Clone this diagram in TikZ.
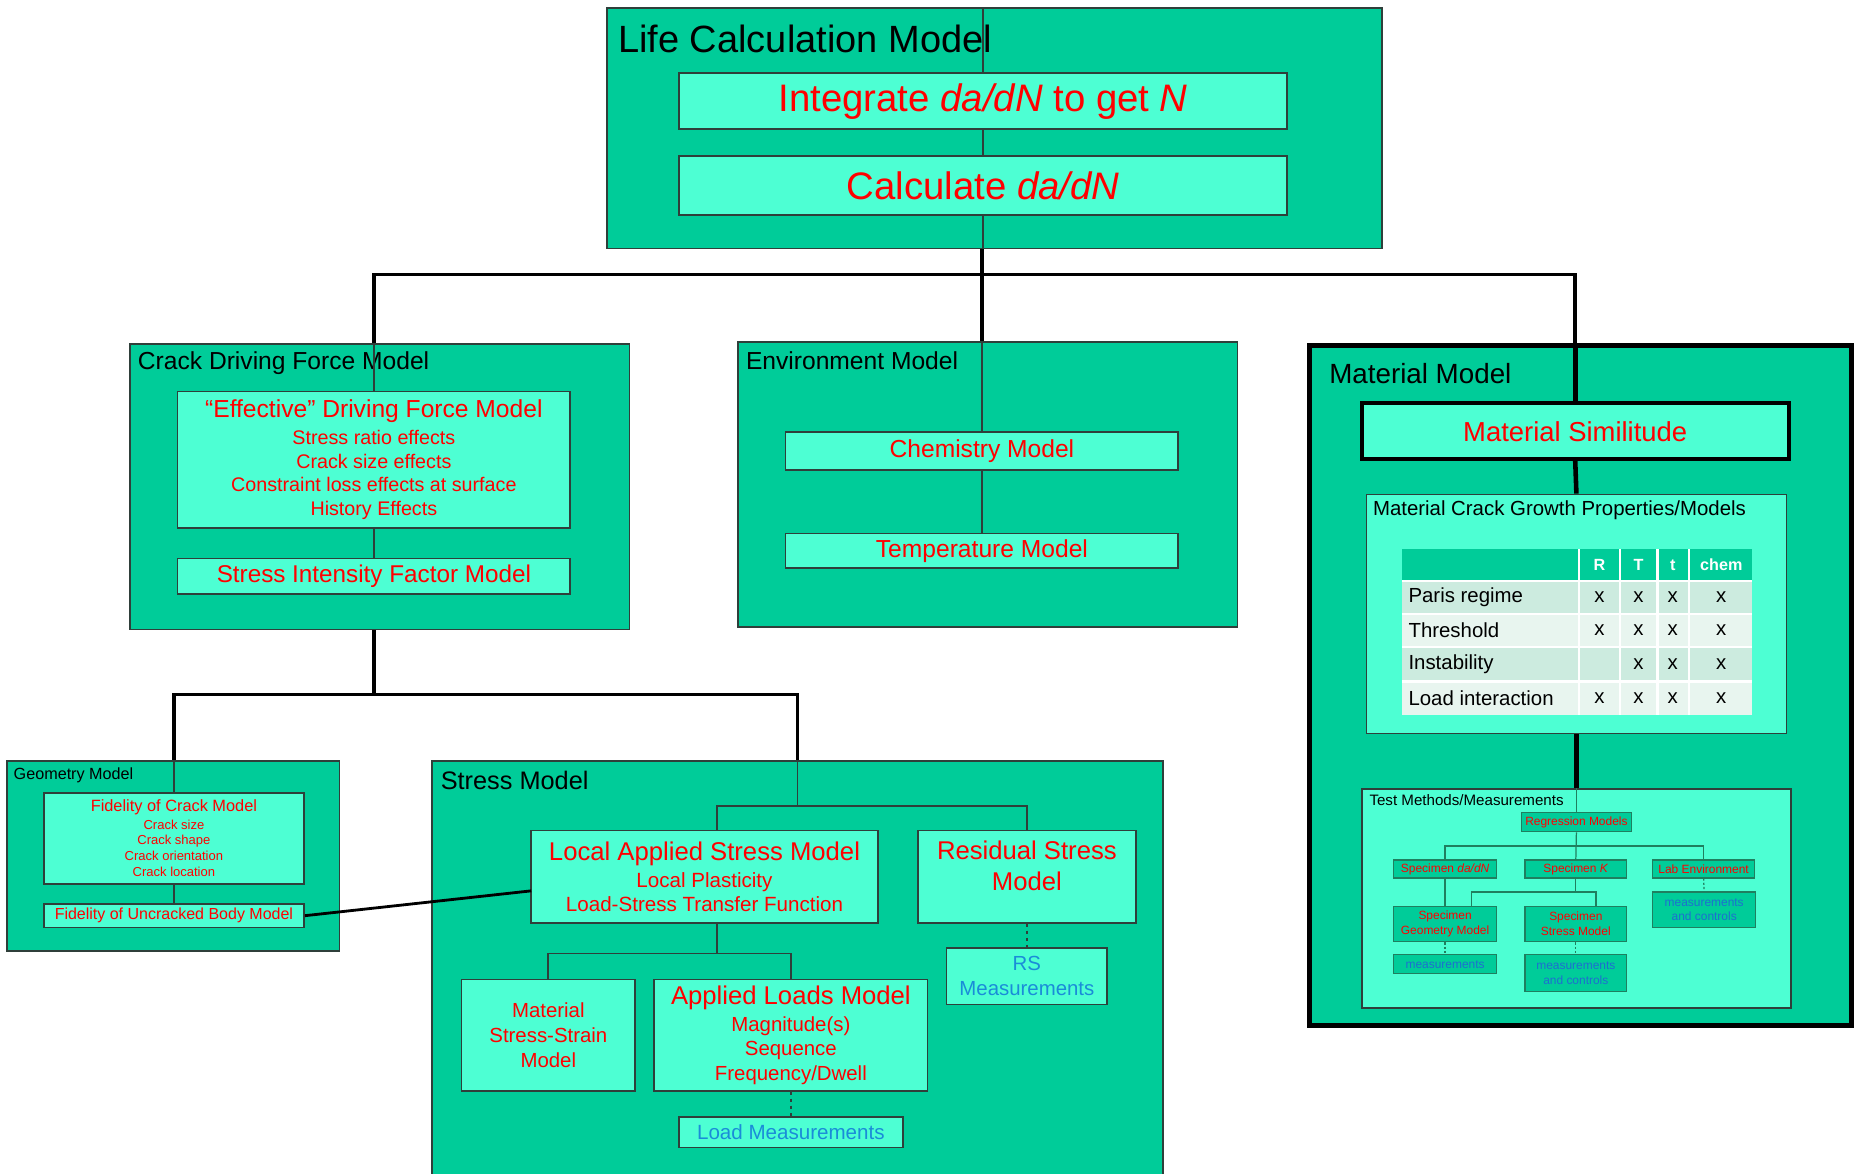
\documentclass[tikz,border=0pt]{standalone}
\usepackage{fontspec}
\setmainfont{Liberation Sans}
\definecolor{modelgreen}{HTML}{00CC99}
\definecolor{innergreen}{HTML}{4DFFD3}
\definecolor{labelred}{HTML}{FF0000}
\definecolor{measblue}{HTML}{1A8CD8}
\definecolor{testblue}{HTML}{1E6ED0}
\definecolor{rowdark}{HTML}{CCEBDF}
\definecolor{rowlight}{HTML}{E8F5EF}
\definecolor{edgegray}{HTML}{2F3F3A}
\definecolor{testedge}{HTML}{1F7F5F}
\newcommand{\fsz}[2]{\fontsize{#1}{#2}\selectfont}

\begin{document}
\begin{tikzpicture}[x=0.01183cm, y=-0.01183cm,
    boxsize/.style 2 args={minimum width={#1*0.01183cm}, minimum height={#2*0.01183cm}},
    outerbox/.style={draw=edgegray, line width=0.5pt, fill=modelgreen, inner sep=0pt},
    innerbox/.style={draw=edgegray, line width=0.5pt, fill=innergreen, inner sep=0pt, align=center, text=labelred},
    testbox/.style={draw=testedge, line width=0.4pt, fill=modelgreen, inner sep=0pt, align=center, text=labelred, font=\fsz{3.4}{4.2}},
    titletext/.style={inner sep=0pt, anchor=west, text=black},
    tablecell/.style={inner sep=0pt, text=black, font=\fsz{5.8}{7}},
    tablehead/.style={inner sep=0pt, text=white, font=\bfseries\fsz{4.6}{5.5}},
    thinline/.style={draw=edgegray, line width=0.5pt},
    busline/.style={draw=black, line width=1pt},
    testline/.style={draw=testedge, line width=0.35pt},
    measline/.style={draw=edgegray, line width=0.4pt, dash pattern=on 1pt off 1pt}]
\useasboundingbox[fill=white] (0,0) rectangle (1568,992);

\node[outerbox, boxsize={655}{203}] (lcm) at (840.5,108.5) {};
\node[outerbox, boxsize={422}{241}] (cdf) at (321,411.5) {};
\node[outerbox, boxsize={422}{241}] (env) at (835,409.5) {};
\node[outerbox, draw=black, line width=1.3pt, boxsize={458}{575}] (mat) at (1336,579.5) {};
\node[outerbox, boxsize={281}{161}] (geo) at (146.5,723.5) {};
\node[outerbox, boxsize={618}{357}] (stm) at (674,821.5) {};

\node[titletext, font=\fsz{10.8}{13}] (lcmtitle) at (522,33) {Life Calculation Model};
\node[titletext, font=\fsz{7}{8.4}] (cdftitle) at (116,307) {Crack Driving Force Model};
\node[titletext, font=\fsz{7}{8.4}] (envtitle) at (630,305) {Environment Model};
\node[titletext, font=\fsz{7.9}{9.5}] (mattitle) at (1123,316) {Material Model};
\node[titletext, font=\fsz{4.6}{5.5}] (geotitle) at (11,655) {Geometry Model};
\node[titletext, font=\fsz{7.2}{8.6}] (stmtitle) at (372,660) {Stress Model};

\node[innerbox, font=\fsz{10.9}{13}, boxsize={514}{47}] (integ) at (831,85.5) {Integrate \textit{da/dN} to get \textit{N}};
\node[innerbox, font=\fsz{10.9}{13}, boxsize={514}{50}] (calcrate) at (831,157) {Calculate \textit{da/dN}};

\node[innerbox, font=\fsz{5.6}{6.7}, boxsize={332}{115}] (eff) at (316,388.5) {{\fsz{7}{8}“Effective” Driving Force Model}\\[1pt] Stress ratio effects\\ Crack size effects\\ Constraint loss effects at surface\\ History Effects};
\node[innerbox, font=\fsz{6.9}{8}, boxsize={332}{30}] (sif) at (316,487) {Stress Intensity Factor Model};

\node[innerbox, font=\fsz{7}{8}, boxsize={332}{32}] (chem) at (830,381) {Chemistry Model};
\node[innerbox, font=\fsz{7}{8}, boxsize={332}{29}] (temp) at (830,465.5) {Temperature Model};

\node[innerbox, draw=black, line width=1.1pt, font=\fsz{7.8}{9}, boxsize={361}{47}] (simil) at (1331.5,364.5) {Material Similitude};
\node[innerbox, boxsize={355}{202}] (mcg) at (1332.5,519) {};
\node[innerbox, boxsize={363}{185}] (tmm) at (1332.5,759.5) {};
\node[titletext, font=\fsz{5.8}{7}] (mcgtitle) at (1160,431) {Material Crack Growth Properties/Models};
\node[titletext, font=\fsz{4.3}{5}] (tmmtitle) at (1157,676) {Test Methods/Measurements};

\fill[modelgreen] (1185,464) rectangle (1481,491);
\foreach \hx/\htxt in {1352/R, 1385/T, 1414/t, 1455/chem}
    \node[tablehead] at (\hx,477.5) {\htxt};
\foreach \rowname/\ya/\yb/\rowcol/\rmark in {Paris regime/491/519/rowdark/x, Threshold/519/547/rowlight/x, Instability/547/576/rowdark/{}, Load interaction/576/604/rowlight/x} {
    \fill[\rowcol] (1185,\ya) rectangle (1481,\yb);
    \node[tablecell, anchor=west] at (1190,{(\ya+\yb)/2}) {\rowname};
    \node[tablecell] at (1352,{(\ya+\yb)/2}) {\rmark};
    \foreach \cx in {1385,1414,1455}
        \node[tablecell] at (\cx,{(\ya+\yb)/2}) {x};
}
\foreach \sx in {1335,1369,1401,1428}
    \draw[white, line width=0.6pt] (\sx,464) -- (\sx,604);
\foreach \sy in {491,519,547,576}
    \draw[white, line width=0.6pt] (1185,\sy) -- (1481,\sy);

\node[testbox, boxsize={93}{16}] (reg) at (1332.5,695) {Regression Models};
\node[testbox, boxsize={87}{15}] (spda) at (1221.5,734.5) {Specimen \textit{da/dN}};
\node[testbox, boxsize={86}{15}] (spk) at (1332,734.5) {Specimen \textit{K}};
\node[testbox, boxsize={86}{15}] (labenv) at (1440,734.5) {Lab Environment};
\node[testbox, boxsize={87}{30}] (spgeo) at (1221.5,781) {Specimen\\Geometry Model};
\node[testbox, boxsize={86}{30}] (spst) at (1332,781) {Specimen\\Stress Model};
\node[testbox, text=testblue, boxsize={87}{16}] (measgeo) at (1221.5,815) {measurements};
\node[testbox, text=testblue, boxsize={86}{31}] (measst) at (1332,822.5) {measurements\\and controls};
\node[testbox, text=testblue, boxsize={87}{30}] (measlab) at (1440.5,769) {measurements\\and controls};

\node[innerbox, font=\fsz{3.7}{4.5}, boxsize={220}{77}] (fcm) at (147,708.5) {{\fsz{4.65}{5.5}Fidelity of Crack Model}\\[0.5pt] Crack size\\ Crack shape\\ Crack orientation\\ Crack location};
\node[innerbox, font=\fsz{4.55}{5.5}, boxsize={220}{20}] (fub) at (147,774) {Fidelity of Uncracked Body Model};

\node[innerbox, font=\fsz{5.85}{7}, boxsize={293}{78}] (las) at (595.5,741) {{\fsz{7.3}{8.5}Local Applied Stress Model}\\[0.7pt] Local Plasticity\\ Load-Stress Transfer Function};
\node[innerbox, boxsize={184}{78}] (rsm) at (868,741) {};
\node[inner sep=0pt, align=center, text=labelred, font=\fsz{7.3}{8.7}] (rsmtext) at (868,732) {Residual Stress\\Model};
\node[innerbox, text=measblue, font=\fsz{5.8}{7}, boxsize={136}{48}] (rsmeas) at (868,825) {RS\\Measurements};
\node[innerbox, font=\fsz{5.8}{7}, boxsize={147}{94}] (mss) at (463.5,875) {Material\\Stress-Strain\\Model};
\node[innerbox, font=\fsz{5.8}{7}, boxsize={231}{94}] (alm) at (668.5,875) {{\fsz{7.3}{8.5}Applied Loads Model}\\[0.7pt] Magnitude(s)\\ Sequence\\ Frequency/Dwell};
\node[innerbox, text=measblue, font=\fsz{5.85}{7}, boxsize={189}{26}] (ldmeas) at (668.5,957) {Load Measurements};

\coordinate (topbus) at (830,232);
\coordinate (lowbus) at (316,587);
\coordinate (stbus) at (674,681);
\coordinate (lastop) at (606,702);
\coordinate (lasbot) at (606,780);
\coordinate (loadbus) at (606,806);
\coordinate (laslink) at (449,753);
\coordinate (regbus) at (1332,715);
\coordinate (kbus) at (1332,754);
\coordinate (geotop) at (1244,766);
\coordinate (sttop) at (1349,766);

\draw[thinline] (integ.north) -- (integ.north |- lcm.north);
\draw[thinline] (integ.south) -- (calcrate.north);
\draw[thinline] (calcrate.south) -- (calcrate.south |- lcm.south);
\draw[busline] (lcm.south -| chem.north) -- (env.north -| chem.north);
\draw[busline] (cdf.north -| eff.north) |- (topbus) -| (mat.north -| simil.north);
\draw[busline, line width=1.3pt] (mat.north -| simil.north) -- (simil.north);
\draw[thinline] (eff.north) -- (eff.north |- cdf.north);
\draw[thinline] (eff.south) -- (sif.north);
\draw[thinline] (chem.north) -- (chem.north |- env.north);
\draw[thinline] (chem.south) -- (temp.north);

\draw[busline] (sif.south |- cdf.south) -- (lowbus);
\draw[busline] (fcm.north |- geo.north) |- (lowbus) -| (stm.north);
\draw[thinline] (fcm.north) -- (fcm.north |- geo.north);
\draw[thinline] (fcm.south) -- (fub.north);
\draw[busline, line width=0.8pt] (fub.east) -- (laslink);
\draw[thinline] (stm.north) -- (stbus);
\draw[thinline] (lastop) |- (stbus) -| (rsm.north);
\draw[thinline] (lasbot) -- (loadbus);
\draw[thinline] (mss.north) |- (loadbus) -| (alm.north);
\draw[measline] (rsm.south) -- (rsmeas.north);
\draw[measline] (alm.south) -- (ldmeas.north);

\draw[busline, line width=1.3pt] (simil.south) -- (mcg.north);
\draw[busline, line width=1.3pt] (mcg.south) -- (tmm.north);
\draw[testline] (tmm.north) -- (reg.north);
\draw[testline] (reg.south) -- (spk.north);
\draw[testline] (spda.north) |- (regbus) -| (labenv.north);
\draw[testline] (spda.south) -- (spgeo.north);
\draw[testline] (spk.south) -- (kbus);
\draw[testline] (geotop) |- (kbus) -| (sttop);
\draw[testline, dash pattern=on 0.6pt off 0.6pt] (spgeo.south) -- (measgeo.north);
\draw[testline, dash pattern=on 0.6pt off 0.6pt] (spst.south) -- (measst.north);
\draw[testline, dash pattern=on 0.6pt off 0.6pt] (labenv.south) -- (measlab.north);
\end{tikzpicture}
\end{document}
